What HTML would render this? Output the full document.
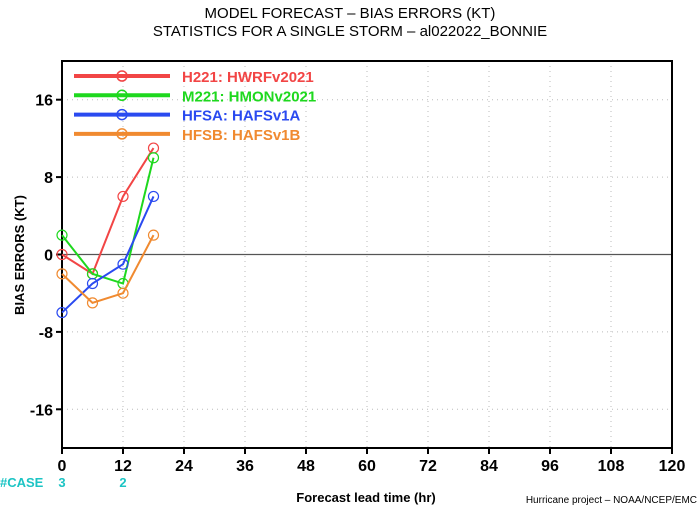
<!DOCTYPE html>
<html><head><meta charset="utf-8"><style>
body{margin:0;background:#fff;}
svg{display:block;font-family:"Liberation Sans",sans-serif;}
</style></head><body>
<svg width="700" height="506" viewBox="0 0 700 506">
<text x="350" y="18" text-anchor="middle" font-size="15">MODEL FORECAST – BIAS ERRORS (KT)</text>
<text x="350" y="36" text-anchor="middle" font-size="15">STATISTICS FOR A SINGLE STORM – al022022_BONNIE</text>
<g id="grid"></g>
<g id="axes"></g>
<g id="series"></g>
<g id="legend"></g>
<text transform="translate(24,255) rotate(-90)" text-anchor="middle" font-size="13" font-weight="bold">BIAS ERRORS (KT)</text>
<text x="366" y="502" text-anchor="middle" font-size="13" font-weight="bold">Forecast lead time (hr)</text>
<text x="697" y="503" text-anchor="end" font-size="10">Hurricane project – NOAA/NCEP/EMC</text>
<text x="0" y="487" font-size="13" font-weight="bold" fill="#1cc4c4">#CASE</text>
<g id="cases"></g>
</svg>
<script>
const xTicks=[0,12,24,36,48,60,72,84,96,108,120];
const yTicks=[-16,-8,0,8,16];
const leads=[0,6,12,18];
const caseLeads=[0,12];
const caseCounts=[3,2];
const seriesNames=["H221: HWRFv2021","M221: HMONv2021","HFSA: HAFSv1A","HFSB: HAFSv1B"];
const seriesColors=["#f24545","#1ed81e","#2a4af0","#f08a30"];
const h221=[0,-2,6,11];
const m221=[2,-2,-3,10];
const hfsa=[-6,-3,-1,6];
const hfsb=[-2,-5,-4,2];
const allSeries=[h221,m221,hfsa,hfsb];
const L=62,R=672,T=61,B=448;
const xs=v=>L+(v-0)/(120-0)*(R-L);
const ys=v=>B-(v+20)/40*(B-T);
const NS="http://www.w3.org/2000/svg";
function mk(tag,attrs,parent){const e=document.createElementNS(NS,tag);for(const k in attrs)e.setAttribute(k,attrs[k]);parent.appendChild(e);return e;}
const grid=document.getElementById('grid'),axes=document.getElementById('axes'),ser=document.getElementById('series'),leg=document.getElementById('legend'),cases=document.getElementById('cases');
xTicks.forEach(t=>{
 if(t>0&&t<120){const g=mk('line',{x1:xs(t),x2:xs(t),y1:T,y2:B,stroke:'#bbb','stroke-dasharray':'1,4'},grid);
 
 }
 const tk=mk('line',{x1:xs(t),x2:xs(t),y1:B,y2:B+6,stroke:'#000','stroke-width':2},axes);
 
 
 const tx=mk('text',{x:xs(t),y:B+23,'text-anchor':'middle','font-size':16,'font-weight':'bold'},axes);
 tx.textContent=t;
 
 
});
yTicks.forEach(t=>{
 if(t!==0){const g=mk('line',{x1:L,x2:R,y1:ys(t),y2:ys(t),stroke:'#bbb','stroke-dasharray':'1,4'},grid);
 
 }
 const tk=mk('line',{x1:L-6,x2:L,y1:ys(t),y2:ys(t),stroke:'#000','stroke-width':2},axes);
 
 
 const tx=mk('text',{x:L-9,y:ys(t)+6,'text-anchor':'end','font-size':16,'font-weight':'bold'},axes);
 tx.textContent=t;
 
 
});
const zl=mk('line',{x1:L,x2:R,y1:ys(0),y2:ys(0),stroke:'#555','stroke-width':1.3},axes);


const fr=mk('rect',{x:L,y:T,width:R-L,height:B-T,fill:'none',stroke:'#000','stroke-width':2},axes);


allSeries.forEach((vals,i)=>{
 const c=seriesColors[i];
 const pl=mk('polyline',{points:vals.map((v,j)=>xs(leads[j])+','+ys(v)).join(' '),fill:'none',stroke:c,'stroke-width':2},ser);
 
 
 vals.forEach((v,j)=>{
  const ci=mk('circle',{cx:xs(leads[j]),cy:ys(v),r:5,fill:'none',stroke:c,'stroke-width':1.2},ser);
  
  
 });
 const y=76+i*19.3;
 const ll=mk('line',{x1:74,x2:170,y1:y,y2:y,stroke:c,'stroke-width':4},leg);
 
 
 const lc=mk('circle',{cx:122,cy:y,r:5,fill:'none',stroke:c,'stroke-width':1.5},leg);
 
 
 const lt=mk('text',{x:182,y:y+6,'font-size':15,'font-weight':'bold',fill:c},leg);
 lt.textContent=seriesNames[i];
 
 
});
caseLeads.forEach((t,i)=>{
 const tx=mk('text',{x:xs(t),y:487,'text-anchor':'middle','font-size':13,'font-weight':'bold',fill:'#1cc4c4'},cases);
 tx.textContent=caseCounts[i];
 
 
});
</script>
</body></html>
